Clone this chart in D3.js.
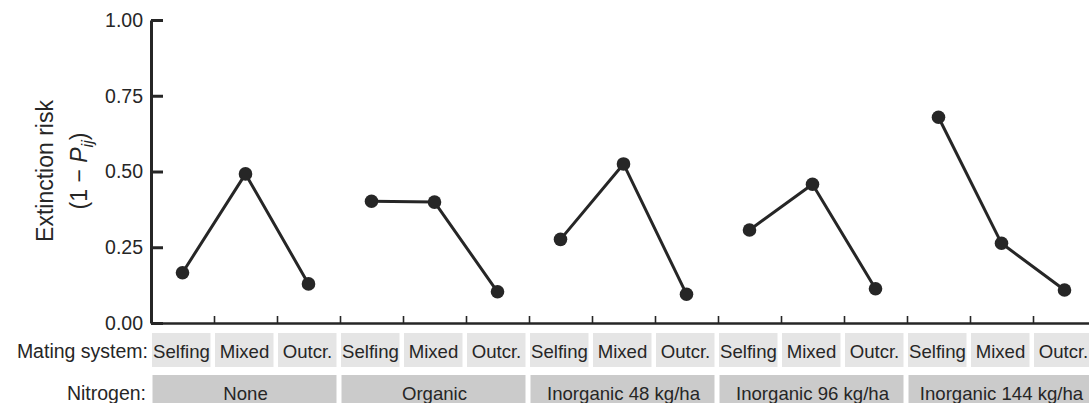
<!DOCTYPE html>
<html>
<head>
<meta charset="utf-8">
<script src="https://cdn.jsdelivr.net/npm/d3@7"></script>
<style>
  html, body { margin: 0; padding: 0; background: #fff; overflow: hidden; }
  svg { display: block; font-family: "Liberation Sans", Arial, Helvetica, sans-serif; }
</style>
</head>
<body>
<svg id="chart" width="1089" height="403"></svg>
<script>
// Nitrogen treatments and mating systems (grouped x axis)
const nitrogenLevels = ["None", "Organic", "Inorganic 48 kg/ha", "Inorganic 96 kg/ha", "Inorganic 144 kg/ha"];
const matingSystems = ["Selfing", "Mixed", "Outcr."];

// Extinction risk (1 - P_ij) per mating system, one array per nitrogen treatment
const riskNone      = [0.166, 0.492, 0.129];
const riskOrganic   = [0.402, 0.399, 0.103];
const riskInorg48   = [0.276, 0.525, 0.095];
const riskInorg96   = [0.307, 0.458, 0.113];
const riskInorg144  = [0.679, 0.263, 0.109];

const yTicks = [0, 0.25, 0.5, 0.75, 1.0];

const riskByLevel = [riskNone, riskOrganic, riskInorg48, riskInorg96, riskInorg144];

const ink = "#262626";
const svg = d3.select("#chart");

const cells = [];
nitrogenLevels.forEach((n, i) => matingSystems.forEach((m, j) => cells.push({ n, m, key: n + "|" + m, gi: i, value: riskByLevel[i][j] })));

const x = d3.scaleBand().domain(cells.map(d => d.key)).range([151, 1096]).padding(0);
const xIdx = d3.scaleLinear().domain([0, cells.length]).range([151, 1096]);
const xGroup = d3.scaleBand().domain(nitrogenLevels).range([151, 1096]).padding(0);
const y = d3.scaleLinear().domain([0, 1]).range([323, 20]);

// y axis: ticks point into the plot
const yAxis = svg.append("g")
  .attr("transform", "translate(151,0)")
  .call(d3.axisLeft(y).tickValues(yTicks).tickFormat(d3.format(".2f")).tickSizeInner(-12).tickSizeOuter(0).tickPadding(8));
yAxis.select(".domain").attr("stroke", ink).attr("stroke-width", 3);
yAxis.selectAll(".tick line").attr("stroke", ink).attr("stroke-width", 3);
yAxis.selectAll(".tick text").attr("fill", ink).attr("font-size", 19.5)
  .attr("font-family", "Liberation Sans, Arial, sans-serif").attr("x", -8);

// x axis: baseline with small upward ticks between categories
const xAxis = svg.append("g")
  .attr("transform", `translate(0,${y(0)})`)
  .call(d3.axisBottom(xIdx).tickValues(d3.range(1, cells.length)).tickFormat("").tickSizeInner(-7).tickSizeOuter(0));
xAxis.select(".domain").attr("stroke", ink).attr("stroke-width", 2.5);
xAxis.selectAll(".tick line").attr("stroke", ink).attr("stroke-width", 1.6);

// y axis title
const title = svg.append("g").attr("fill", ink).attr("font-size", 23).attr("text-anchor", "middle");
title.append("text").attr("transform", "translate(53,171) rotate(-90)").text("Extinction risk");
const t2 = title.append("text").attr("transform", "translate(87,171) rotate(-90)");
t2.append("tspan").text("(1 \u2212 ");
t2.append("tspan").attr("font-style", "italic").text("P");
t2.append("tspan").attr("font-style", "italic").attr("font-size", 16).attr("dy", 6).text("ij");
t2.append("tspan").attr("dy", -6).text(")");

// connecting lines and points, one series per nitrogen treatment
const line = d3.line().x(d => x(d.key) + x.bandwidth() / 2).y(d => y(d.value));
const series = svg.append("g");
nitrogenLevels.forEach((n, i) => {
  const pts = cells.filter(c => c.gi === i);
  series.append("path").datum(pts).attr("d", line)
    .attr("fill", "none").attr("stroke", ink).attr("stroke-width", 3).attr("stroke-linejoin", "round");
  series.selectAll(null).data(pts).join("circle")
    .attr("cx", d => x(d.key) + x.bandwidth() / 2).attr("cy", d => y(d.value))
    .attr("r", 6.8).attr("fill", ink);
});

// mating system row
svg.append("text").attr("x", 148).attr("y", 358).attr("text-anchor", "end")
  .attr("font-size", 19.5).attr("fill", ink).text("Mating system:");
const mRow = svg.append("g").selectAll("g").data(cells).join("g");
mRow.append("rect").attr("x", d => x(d.key) + 1).attr("y", 333)
  .attr("width", x.bandwidth() - 4.5).attr("height", 34).attr("fill", "#e5e5e5");
mRow.append("text").attr("x", d => x(d.key) + x.bandwidth() / 2 - 1).attr("y", 358)
  .attr("text-anchor", "middle").attr("font-size", 18.6).attr("fill", ink).text(d => d.m);

// nitrogen row
svg.append("text").attr("x", 146).attr("y", 400).attr("text-anchor", "end")
  .attr("font-size", 19.5).attr("fill", ink).text("Nitrogen:");
const nRow = svg.append("g").selectAll("g").data(nitrogenLevels).join("g");
nRow.append("rect").attr("x", d => xGroup(d) + 1.5).attr("y", 375)
  .attr("width", xGroup.bandwidth() - 5).attr("height", 40).attr("fill", "#cbcbcb");
nRow.append("text").attr("x", d => xGroup(d) + xGroup.bandwidth() / 2).attr("y", 400)
  .attr("text-anchor", "middle").attr("font-size", 18.6).attr("fill", ink).text(d => d);
</script>
</body>
</html>
